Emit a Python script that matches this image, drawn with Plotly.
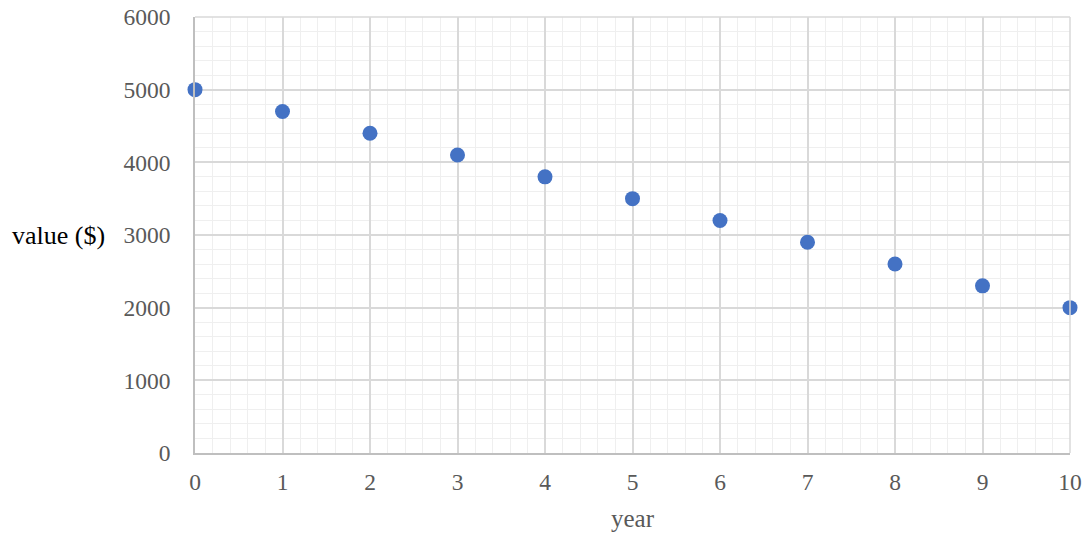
import plotly.graph_objects as go

years = [0, 1, 2, 3, 4, 5, 6, 7, 8, 9, 10]
values = [5000, 4700, 4400, 4100, 3800, 3500, 3200, 2900, 2600, 2300, 2000]

fig = go.Figure()
fig.add_trace(go.Scatter(
    x=years, y=values, mode="markers",
    marker=dict(color="#4472C4", size=15),
    cliponaxis=False, showlegend=False,
))

font = "Liberation Serif, Times New Roman, serif"
fig.update_layout(
    width=1088, height=535,
    margin=dict(l=195, r=18, t=17, b=82, autoexpand=False),
    paper_bgcolor="white", plot_bgcolor="white",
    font=dict(family=font, size=23.5, color="#595959"),
    xaxis=dict(
        range=[0, 10], dtick=1, tick0=0,
        showgrid=True, gridcolor="#D9D9D9", gridwidth=1.5,
        minor=dict(dtick=0.2, showgrid=True, gridcolor="#EFEFEF", gridwidth=1.2),
        showline=True, linecolor="#BFBFBF", linewidth=1.5,
        zeroline=False, ticks="outside", ticklen=7, tickcolor="rgba(0,0,0,0)",
        tickfont=dict(family=font, size=23.5, color="#595959"),
        title=dict(text="year", font=dict(family=font, size=25, color="#595959"), standoff=16),
    ),
    yaxis=dict(
        range=[0, 6000], dtick=1000, tick0=0,
        showgrid=True, gridcolor="#D9D9D9", gridwidth=1.5,
        minor=dict(dtick=200, showgrid=True, gridcolor="#EFEFEF", gridwidth=1.2),
        showline=True, linecolor="#BFBFBF", linewidth=1.5,
        zeroline=False, ticks="outside", ticklen=18, tickcolor="rgba(0,0,0,0)",
        tickfont=dict(family=font, size=23.5, color="#595959"),
    ),
    annotations=[dict(
        text="value ($)", xref="paper", yref="paper",
        x=-0.101, y=0.5, xanchor="right", yanchor="middle",
        showarrow=False, font=dict(family=font, size=26, color="#000000"),
    )],
)
fig.add_shape(type="line", xref="paper", yref="paper", x0=1, x1=1, y0=0, y1=1,
              line=dict(color="#D9D9D9", width=1.5))
fig.add_shape(type="line", xref="paper", yref="paper", x0=0, x1=1, y0=1, y1=1,
              line=dict(color="#D9D9D9", width=1.5))

fig.write_html("out.html", config={"displayModeBar": False},
               post_script="document.body.style.margin='0';")
